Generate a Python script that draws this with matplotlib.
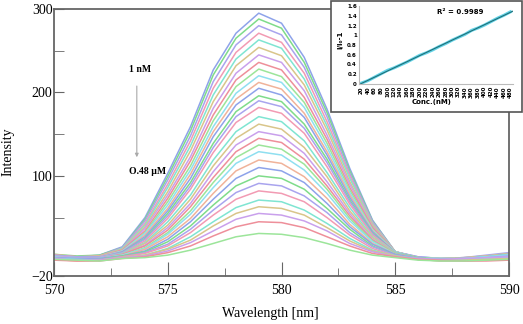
import numpy as np
import matplotlib
matplotlib.use("Agg")
import matplotlib.pyplot as plt
from matplotlib.patches import Rectangle

# emission spectra, one row per concentration (570..590 nm, 1 nm steps)
wavelength = list(range(570, 591))
spectra = [
    [5, 3, 5, 15, 50, 103, 159, 227, 271, 295, 283, 242, 180, 109, 47, 9, 3, 1, 2, 4, 7],
    [6, 4, 5, 14, 48, 99, 154, 221, 265, 288, 277, 236, 176, 106, 46, 9, 2, 1, 1, 3, 6],
    [4, 3, 4, 14, 46, 95, 148, 213, 257, 280, 269, 230, 171, 103, 45, 9, 3, 1, 2, 5, 8],
    [5, 2, 4, 13, 43, 90, 142, 205, 248, 271, 260, 223, 165, 100, 43, 9, 2, 0, 1, 3, 5],
    [3, 2, 3, 13, 41, 86, 136, 197, 240, 263, 253, 216, 160, 97, 42, 9, 1, 0, 1, 2, 4],
    [6, 3, 4, 12, 39, 81, 130, 189, 232, 254, 244, 209, 155, 93, 41, 9, 2, 1, 2, 4, 7],
    [4, 2, 3, 11, 37, 77, 123, 181, 223, 245, 236, 202, 149, 90, 39, 9, 1, 0, 0, 1, 3],
    [5, 3, 3, 11, 34, 73, 118, 173, 215, 236, 227, 194, 144, 86, 38, 9, 2, 0, 1, 3, 6],
    [3, 1, 2, 10, 32, 69, 112, 166, 207, 228, 219, 188, 139, 83, 36, 9, 1, -1, 0, 1, 3],
    [4, 2, 3, 10, 31, 65, 107, 159, 199, 220, 212, 182, 134, 80, 35, 9, 2, 1, 1, 3, 5],
    [5, 3, 3, 9, 29, 61, 102, 153, 192, 212, 204, 175, 129, 77, 34, 8, 0, -1, 0, 2, 4],
    [3, 2, 2, 9, 27, 58, 97, 147, 185, 205, 197, 170, 125, 74, 33, 8, 1, 0, 1, 3, 6],
    [4, 2, 2, 8, 25, 55, 92, 139, 177, 196, 189, 162, 120, 71, 31, 8, 2, 0, 0, 2, 4],
    [5, 3, 3, 8, 24, 52, 88, 134, 171, 190, 183, 157, 116, 69, 30, 8, 1, 0, 1, 2, 5],
    [3, 1, 2, 7, 22, 49, 84, 128, 164, 182, 175, 151, 111, 66, 29, 8, 0, -1, -1, 1, 3],
    [4, 2, 2, 7, 20, 45, 77, 119, 153, 171, 165, 142, 104, 62, 27, 8, 1, 0, 1, 3, 6],
    [2, 1, 1, 6, 19, 41, 72, 112, 145, 162, 156, 134, 99, 58, 26, 7, 1, 0, 0, 1, 2],
    [4, 2, 2, 6, 17, 38, 67, 105, 137, 153, 148, 127, 93, 55, 24, 7, 0, -1, 0, 2, 5],
    [3, 1, 1, 6, 16, 35, 63, 98, 129, 145, 140, 120, 88, 52, 23, 7, 1, 0, 1, 2, 4],
    [2, 0, 1, 5, 14, 32, 58, 92, 122, 137, 132, 114, 84, 49, 22, 7, 0, -2, -1, 0, 2],
    [3, 1, 1, 5, 13, 30, 54, 86, 115, 129, 125, 107, 79, 46, 21, 6, 1, 0, 1, 3, 5],
    [1, 0, 0, 4, 12, 27, 49, 79, 106, 119, 115, 99, 73, 42, 19, 6, 0, -1, -1, 0, 1],
    [2, 1, 1, 4, 10, 24, 45, 72, 97, 110, 106, 92, 67, 39, 18, 6, 1, 0, 0, 1, 3],
    [1, -1, 0, 4, 9, 21, 40, 65, 88, 100, 97, 84, 61, 36, 16, 5, 0, -1, 0, 1, 3],
    [2, 0, 0, 3, 8, 18, 36, 59, 80, 91, 88, 76, 56, 32, 15, 5, 1, 0, 0, 2, 4],
    [0, -1, -1, 3, 7, 16, 32, 53, 72, 82, 79, 69, 50, 29, 13, 4, 0, -2, -2, -1, 0],
    [1, 0, -1, 2, 5, 13, 27, 45, 62, 71, 69, 59, 43, 25, 11, 4, 1, 0, 0, 1, 2],
    [0, -2, -1, 2, 5, 12, 23, 40, 55, 63, 61, 53, 38, 22, 10, 4, 0, -1, -1, 0, 1],
    [1, -1, -1, 2, 4, 10, 20, 34, 48, 55, 53, 46, 34, 19, 9, 3, 1, 0, 1, 2, 3],
    [-1, -2, -2, 1, 3, 8, 16, 28, 39, 45, 44, 38, 27, 16, 7, 3, 0, -1, -2, -2, -1],
    [0, -1, -2, 1, 2, 5, 11, 19, 27, 31, 30, 26, 19, 11, 5, 2, -1, -2, -2, -1, 0],
]
line_colors = ['#8ea3ea', '#7fdc8a', '#a9a4ee', '#f29bb3', '#7fe5d2',
               '#d9c58a', '#c9a0ec', '#ee8f9a', '#9ce59a', '#8fdff0', '#f0b39a']

# inset: calibration
conc = list(range(20, 481, 20))
ratio = [0.02, 0.07, 0.14, 0.21, 0.28, 0.33, 0.39, 0.45, 0.52, 0.59, 0.64, 0.70,
         0.77, 0.83, 0.90, 0.96, 1.02, 1.10, 1.15, 1.21, 1.28, 1.35, 1.41, 1.48]

plt.rcParams['font.family'] = ['Liberation Serif', 'DejaVu Serif']

fig = plt.figure(figsize=(5.23, 3.24), dpi=100)
ax = fig.add_axes([54/523, 1-276/324, 455/523, 267/324])

for i, row in enumerate(spectra):
    ax.plot(wavelength, row, color=line_colors[i % len(line_colors)], lw=1.1)

ax.set_xlim(570, 590)
ax.set_ylim(-20, 300)
ax.set_xticks([570, 575, 580, 585, 590])
ax.set_xticks([572.5, 577.5, 582.5, 587.5], minor=True)
ax.set_yticks([-20, 100, 200, 300])
ax.set_yticks([50, 150, 250], minor=True)
ax.tick_params(which='both', direction='in', labelsize=10, color='#666666')
ax.tick_params(axis='x', which='major', length=10, pad=6)
ax.tick_params(axis='x', which='minor', length=6)
ax.tick_params(axis='y', which='both', length=7, pad=1)
for sp in ax.spines.values():
    sp.set_color('#666666')
    sp.set_linewidth(1.3)

ax.set_xlabel('Wavelength [nm]', fontsize=10)
ax.set_ylabel('Intensity', fontsize=10)
ax.xaxis.set_label_coords(0.475, -0.116)
ax.yaxis.set_label_coords(-0.086, 0.464)

ax.text(573.3, 227, '1 nM', fontsize=7, fontweight='bold', va='center')
ax.annotate('', xy=(573.64, 119), xytext=(573.64, 211),
            arrowprops=dict(arrowstyle='-|>', color='#aaaaaa', lw=0.8,
                            mutation_scale=5))
ax.text(574.1, 105, 'O.48 \u00b5M', fontsize=7, fontweight='bold',
        ha='center', va='center')

# inset frame
fig.patches.append(Rectangle((331/523, 1-112/324), 191/523, 111/324,
                             transform=fig.transFigure, facecolor='white',
                             edgecolor='#555555', lw=1.2, zorder=5))

ins = fig.add_axes([359/523, 1-84/324, 154/523, 78/324], zorder=6)
idx = np.arange(len(conc))
ins.plot(idx, ratio, color='#62d2e6', lw=2.2)
k, b = np.polyfit(idx, ratio, 1)
ins.plot([-0.2, len(conc)-0.6], [k*-0.2+b, k*(len(conc)-0.6)+b],
         color='#1f6f78', lw=0.8)
ins.set_xlim(-0.4, len(conc)-0.6)
ins.set_ylim(0, 1.6)
ins.set_yticks(np.arange(0, 1.61, 0.2))
ins.set_yticklabels(['0', '0.2', '0.4', '0.6', '0.8', '1', '1.2', '1.4', '1.6'])
ins.set_xticks(idx)
ins.set_xticklabels([str(c) for c in conc], rotation=90)
ins.tick_params(labelsize=4, length=0, pad=1.5)
for lab in ins.get_xticklabels() + ins.get_yticklabels():
    lab.set_fontweight('bold')
    lab.set_family('DejaVu Sans')
ins.spines['top'].set_visible(False)
ins.spines['right'].set_visible(False)
ins.spines['left'].set_color('#bbbbbb')
ins.spines['bottom'].set_color('#bbbbbb')
ins.set_facecolor('white')

fig.text(340/523, 1-40/324, 'I/I\u2080-1', rotation=90, fontsize=5,
         fontweight='bold', family='DejaVu Sans', ha='center', va='center',
         zorder=7)
fig.text(432/523, 1-102/324, 'Conc.(nM)', fontsize=5, fontweight='bold',
         family='DejaVu Sans', ha='center', va='center', zorder=7)
fig.text(460/523, 1-12/324, 'R\u00b2 = 0.9989', fontsize=5, fontweight='bold',
         family='DejaVu Sans', ha='center', va='center', zorder=7)

fig.savefig('out.png', dpi=100)
